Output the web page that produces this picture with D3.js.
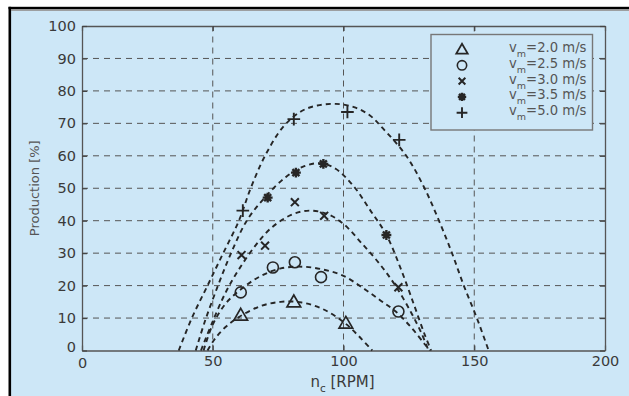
<!DOCTYPE html>
<html>
<head>
<meta charset="utf-8">
<script src="https://cdn.jsdelivr.net/npm/d3@7"></script>
<style>
  body { margin: 0; background: #fff; }
  text { font-family: "DejaVu Sans", Arial, sans-serif; }
</style>
</head>
<body>
<div id="chart"></div>
<script>
// ---- data ----
const xTicks = [0, 50, 100, 150, 200];
const yTicks = [0, 10, 20, 30, 40, 50, 60, 70, 80, 90, 100];

const seriesNames = ["v_m=2.0 m/s", "v_m=2.5 m/s", "v_m=3.0 m/s", "v_m=3.5 m/s", "v_m=5.0 m/s"];
const legendValues = ["=2.0 m/s", "=2.5 m/s", "=3.0 m/s", "=3.5 m/s", "=5.0 m/s"];
const markerTypes = ["triangle", "circle", "times", "asterisk", "plus"];

// measured points [rpm, production %]
const pts20 = [[60.7, 10.9], [81, 15.0], [100.9, 8.4]];
const pts25 = [[60.7, 17.9], [73, 25.6], [81.4, 27.2], [91.4, 22.6], [121, 12]];
const pts30 = [[61, 29.4], [70, 32.3], [81.4, 45.7], [92.6, 41.5], [121, 19.5]];
const pts35 = [[71, 47.1], [81.8, 54.8], [92.3, 57.5], [116.4, 35.6]];
const pts50 = [[61.5, 43.1], [81, 71.3], [101.5, 73.5], [121.3, 64.9]];

// fitted (dashed) curves
const fit20 = [[48, 0], [51, 3.8], [55, 7.3], [60, 10.3], [68, 13.6], [76, 15], [84, 14.8], [92, 12.8], [100, 8.8], [106, 4.3], [111, 0]];
const fit25 = [[46.5, 0], [50, 8], [55, 14.5], [61, 19], [68, 22.8], [76, 25.3], [85, 25.8], [93, 24.8], [100, 23], [107, 19.5], [114, 15.5], [120, 12], [126, 7], [131, 2], [133, 0]];
const fit30 = [[45.5, 0], [50, 9], [55, 18], [60, 25], [66, 32], [72, 37.5], [80, 41.8], [87, 43.1], [94, 42], [100, 39], [107, 33], [114, 26.5], [120, 19.8], [126, 11.5], [130, 5], [132.5, 0]];
const fit35 = [[43.5, 0], [47, 9], [52, 20], [57, 30], [63, 40], [70, 47.2], [78, 53.5], [85, 56.8], [91, 57.7], [97, 56], [104, 50.5], [110, 43.5], [116.4, 35.6], [122, 25], [127, 14], [131, 5], [133.5, 0]];
const fit50 = [[37, 0], [42, 10], [48, 20], [54, 30], [60, 40], [64.5, 50], [70, 60], [77, 69], [84, 73.8], [90, 75.5], [97, 76], [104, 75], [110, 72.5], [115, 68.5], [124, 60], [131, 50], [136.5, 40], [141.5, 30], [146, 20], [151, 10], [155.5, 0]];

const points = [pts20, pts25, pts30, pts35, pts50];
const fits = [fit20, fit25, fit30, fit35, fit50];

// ---- layout ----
const W = 629, H = 396;
const margin = { left: 82, right: 24, top: 26, bottom: 45.5 };
const ink = "#262626";
const bg = "#cde7f7";

const svg = d3.select("#chart").append("svg")
  .attr("width", W).attr("height", H);

// outer frame: white strip, black edge, then blue panel
svg.append("rect").attr("x", 11).attr("y", 10.5).attr("width", W - 11).attr("height", H - 10.5).attr("fill", bg);
svg.append("rect").attr("x", 8.5).attr("y", 6.8).attr("width", 2.6).attr("height", H).attr("fill", "#000");
svg.append("rect").attr("x", 8.5).attr("y", 6.8).attr("width", W).attr("height", 2.4).attr("fill", "#000");
svg.append("rect").attr("x", 11).attr("y", 9.2).attr("width", W).attr("height", 1.6).attr("fill", "#8a8a8a");

const x = d3.scaleLinear().domain([0, 200]).range([margin.left, W - margin.right]);
const y = d3.scaleLinear().domain([0, 100]).range([H - margin.bottom, margin.top]);

// gridlines (dashed)
const grid = svg.append("g").attr("stroke", "#555").attr("stroke-width", 1).attr("stroke-dasharray", "6,5");
grid.selectAll(".gx").data(xTicks.slice(1, -1)).join("line")
  .attr("x1", d => x(d)).attr("x2", d => x(d))
  .attr("y1", y(0)).attr("y2", y(100));
grid.selectAll(".gy").data(yTicks.slice(1, -1)).join("line")
  .attr("x1", x(0)).attr("x2", x(200))
  .attr("y1", d => y(d)).attr("y2", d => y(d));

// axes with inward ticks on all four sides
const tickLen = 5;
const axB = svg.append("g").attr("transform", `translate(0,${y(0)})`)
  .call(d3.axisBottom(x).tickValues(xTicks).tickSizeInner(-tickLen).tickSizeOuter(0).tickPadding(5));
const axT = svg.append("g").attr("transform", `translate(0,${y(100)})`)
  .call(d3.axisTop(x).tickValues(xTicks).tickSizeInner(-tickLen).tickSizeOuter(0).tickFormat(""));
const axL = svg.append("g").attr("transform", `translate(${x(0)},0)`)
  .call(d3.axisLeft(y).tickValues(yTicks).tickSizeInner(-tickLen).tickSizeOuter(0).tickPadding(6));
const axR = svg.append("g").attr("transform", `translate(${x(200)},0)`)
  .call(d3.axisRight(y).tickValues(yTicks).tickSizeInner(-tickLen).tickSizeOuter(0).tickFormat(""));

[axB, axT, axL, axR].forEach(a => {
  a.select(".domain").attr("stroke", "#555").attr("stroke-width", 1.3);
  a.selectAll(".tick line").attr("stroke", "#444").attr("stroke-width", 1.2);
  a.selectAll(".tick text").attr("fill", "#3a3a3a").attr("font-size", 14.5)
    .attr("font-family", "'DejaVu Sans', Arial, sans-serif");
});
// MATLAB-like placement of the two zero labels
axL.selectAll(".tick text").filter(d => d === 0).attr("dy", "0.1em");
axB.selectAll(".tick text").filter(d => d === 0).attr("dy", "0.85em");

// axis titles
svg.append("text")
  .attr("transform", `translate(39,${(y(0) + y(100)) / 2}) rotate(-90)`)
  .attr("text-anchor", "middle").attr("fill", "#555").attr("font-size", 13)
  .text("Production [%]");

const xl = svg.append("text").attr("x", x(100) - 1).attr("y", 387)
  .attr("text-anchor", "middle").attr("fill", "#3a3a3a").attr("font-size", 15);
xl.append("tspan").text("n");
xl.append("tspan").attr("font-size", 10.5).attr("dy", 4.5).text("c");
xl.append("tspan").attr("dy", -4.5).text(" [RPM]");

// fitted curves
const line = d3.line().x(d => x(d[0])).y(d => y(d[1])).curve(d3.curveCatmullRom.alpha(0.5));
svg.append("g").selectAll("path").data(fits).join("path")
  .attr("d", line).attr("fill", "none").attr("stroke", ink)
  .attr("stroke-width", 1.9).attr("stroke-dasharray", "5,4");

// marker shapes
function markerPath(type, s) {
  const p = d3.path();
  if (type === "triangle") {
    p.moveTo(0, -s * 0.62); p.lineTo(s * 0.62, s * 0.45); p.lineTo(-s * 0.62, s * 0.45); p.closePath();
  } else if (type === "circle") {
    p.moveTo(s * 0.5, 0); p.arc(0, 0, s * 0.5, 0, 2 * Math.PI);
  } else if (type === "times") {
    const r = s * 0.36;
    p.moveTo(-r, -r); p.lineTo(r, r); p.moveTo(-r, r); p.lineTo(r, -r);
  } else if (type === "asterisk") {
    const r = s * 0.45;
    for (let i = 0; i < 4; i++) {
      const a = i * Math.PI / 4;
      p.moveTo(-r * Math.cos(a), -r * Math.sin(a)); p.lineTo(r * Math.cos(a), r * Math.sin(a));
    }
  } else {
    const r = s * 0.55;
    p.moveTo(-r, 0); p.lineTo(r, 0); p.moveTo(0, -r); p.lineTo(0, r);
  }
  return p.toString();
}
const markerSize = { triangle: 11, circle: 11, times: 11, asterisk: 11, plus: 11.5 };
const markerStroke = { triangle: 1.7, circle: 1.6, times: 2, asterisk: 2.4, plus: 1.9 };

points.forEach((pts, i) => {
  const t = markerTypes[i];
  svg.append("g").selectAll("path").data(pts).join("path")
    .attr("transform", d => `translate(${x(d[0])},${y(d[1])})`)
    .attr("d", markerPath(t, markerSize[t]))
    .attr("fill", "none").attr("stroke", ink).attr("stroke-width", markerStroke[t]);
});

// legend
const lg = svg.append("g");
lg.append("rect").attr("x", 431).attr("y", 34.5).attr("width", 161.5).attr("height", 95.5)
  .attr("fill", bg).attr("stroke", "#777").attr("stroke-width", 1.4);
const rowY = d3.scalePoint().domain(d3.range(seriesNames.length)).range([49.5, 112.7]);
seriesNames.forEach((name, i) => {
  const t = markerTypes[i];
  lg.append("path").attr("transform", `translate(462,${rowY(i)})`)
    .attr("d", markerPath(t, markerSize[t] * 0.85))
    .attr("fill", "none").attr("stroke", ink).attr("stroke-width", markerStroke[t]);
  const tx = lg.append("text").attr("x", 509).attr("y", rowY(i) + 2.5)
    .attr("fill", "#555").attr("font-size", 13.2);
  tx.append("tspan").text("v");
  tx.append("tspan").attr("font-size", 9.5).attr("dy", 5).text("m");
  tx.append("tspan").attr("dy", -5).text(legendValues[i]);
});
</script>
</body>
</html>
